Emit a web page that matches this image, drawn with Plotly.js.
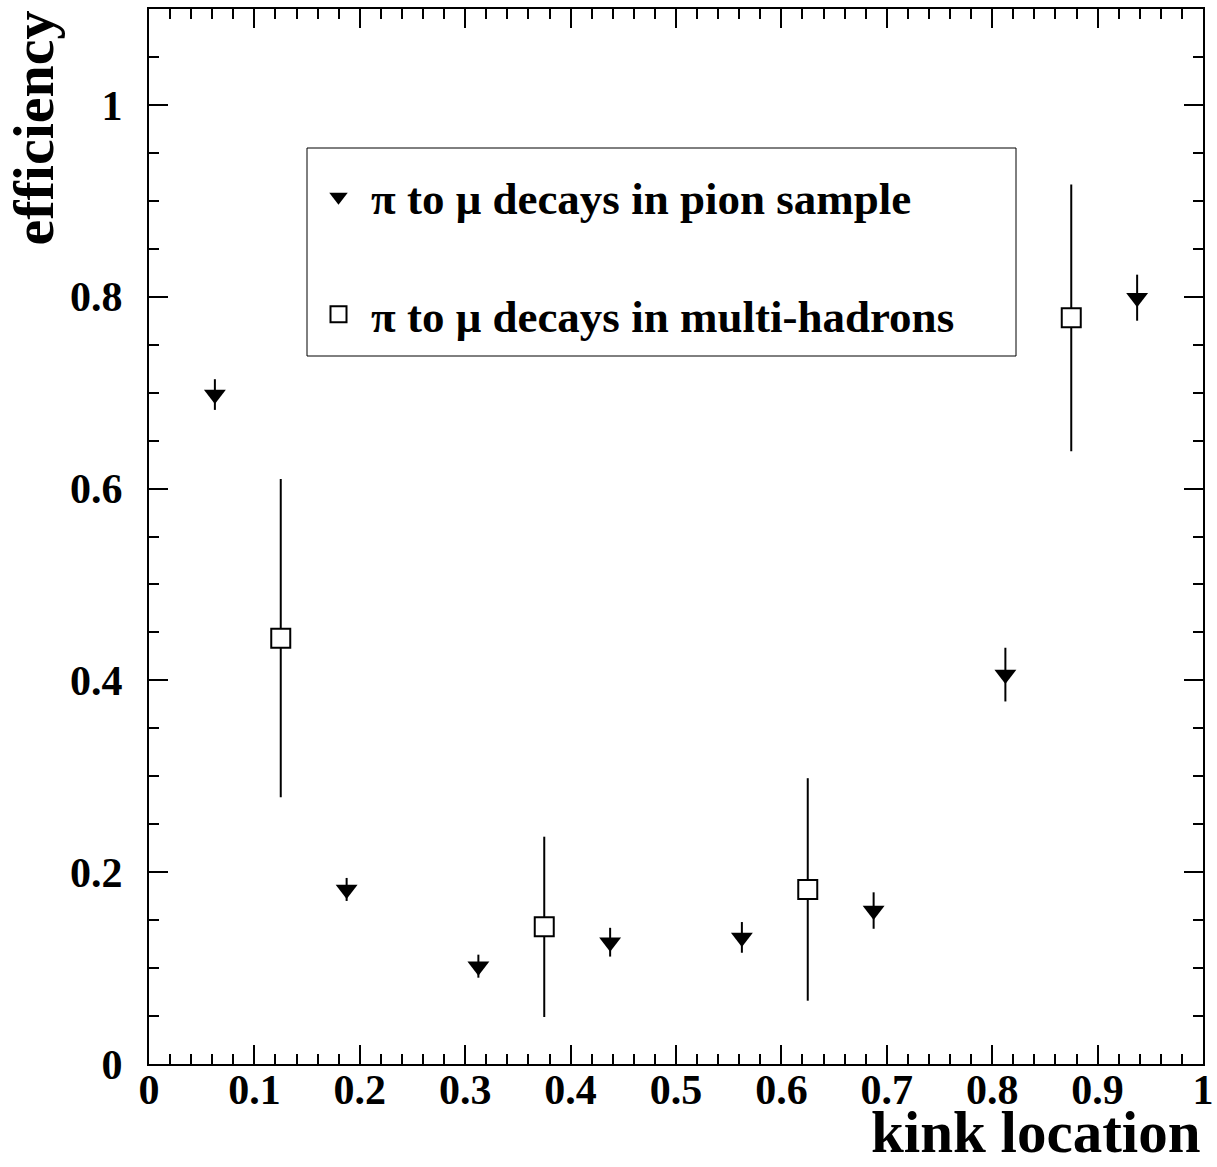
<!DOCTYPE html>
<html>
<head>
<meta charset="utf-8">
<script src="https://cdn.plot.ly/plotly-3.0.1.min.js"></script>
<style>html,body{margin:0;padding:0;background:#fff;}</style>
</head>
<body>
<div id="chart" style="width:1217px;height:1167px;"></div>
<script>
// Pion sample (filled downward triangles)
const pionX = [0.0625, 0.1875, 0.3125, 0.4375, 0.5625, 0.6875, 0.8125, 0.9375];
const pionY = [0.698, 0.182, 0.102, 0.127, 0.132, 0.160, 0.406, 0.799];
const pionErr = [0.016, 0.012, 0.012, 0.015, 0.016, 0.019, 0.028, 0.024];

// Multi-hadrons (open squares)
const multiX = [0.125, 0.375, 0.625, 0.875];
const multiY = [0.444, 0.143, 0.182, 0.778];
const multiErr = [0.166, 0.094, 0.116, 0.139];

const seriesNames = ["\u03c0 to \u03bc decays in pion sample", "\u03c0 to \u03bc decays in multi-hadrons"];

const FONT = "Liberation Serif, Times New Roman, serif";

const traces = [
  {
    x: pionX, y: pionY, type: "scatter", mode: "markers", name: seriesNames[0],
    legendgroup: "a",
    marker: {symbol: "triangle-down", size: 19, color: "#000"},
    error_y: {type: "data", array: pionErr, visible: true, color: "#000", thickness: 2, width: 0}
  },
  {
    x: multiX, y: multiY, type: "scatter", mode: "markers", name: seriesNames[1],
    legendgroup: "b",
    marker: {symbol: "square", size: 19, color: "#fff", line: {color: "#000", width: 2}},
    error_y: {type: "data", array: multiErr, visible: true, color: "#000", thickness: 2, width: 0}
  }
];

const axisCommon = {
  showline: true, linewidth: 2, linecolor: "#000", mirror: "allticks",
  ticks: "inside", ticklen: 19, tickwidth: 2, tickcolor: "#000",
  showgrid: false, zeroline: false,
  tickfont: {family: FONT, size: 42, color: "#000", weight: "bold"}
};

const layout = {
  width: 1217, height: 1167,
  margin: {l: 149, r: 14, t: 9, b: 103},
  paper_bgcolor: "#fff", plot_bgcolor: "#fff",
  showlegend: true,
  xaxis: Object.assign({}, axisCommon, {
    range: [0, 1], tick0: 0, dtick: 0.1, ticklabelstandoff: -12,
    minor: {dtick: 0.02, ticks: "inside", ticklen: 10, tickwidth: 2, tickcolor: "#000", showgrid: false}
  }),
  yaxis: Object.assign({}, axisCommon, {
    range: [0, 1.1], tick0: 0, dtick: 0.2, ticklabelstandoff: 16,
    minor: {dtick: 0.05, ticks: "inside", ticklen: 10, tickwidth: 2, tickcolor: "#000", showgrid: false}
  }),
  legend: {
    x: (306 - 149) / 1054, y: 0.856, xanchor: "left", yanchor: "top",
    bgcolor: "rgba(0,0,0,0)", borderwidth: 0,
    font: {family: FONT, size: 45, color: "#000", weight: "bold"},
    traceorder: "grouped", tracegroupgap: 56, itemwidth: 55
  },
  shapes: [
    {type: "rect", xref: "paper", yref: "paper",
     x0: (307 - 149) / 1054, x1: (1016 - 149) / 1054,
     y0: (1064 - 356) / 1055, y1: (1064 - 148) / 1055,
     line: {color: "#000", width: 1}, fillcolor: "rgba(0,0,0,0)"}
  ],
  annotations: [
    {text: "kink location", xref: "paper", yref: "paper", x: 1, y: 0,
     xanchor: "right", yanchor: "top", xshift: 0, yshift: -33, showarrow: false,
     font: {family: FONT, size: 59, color: "#000", weight: "bold"}},
    {text: "efficiency", xref: "paper", yref: "paper", x: 0, y: 1,
     xanchor: "center", yanchor: "top", xshift: -116, yshift: 0, textangle: -90, showarrow: false,
     font: {family: FONT, size: 58, color: "#000", weight: "bold"}}
  ]
};

Plotly.newPlot("chart", traces, layout, {displayModeBar: false, staticPlot: true});
</script>
</body>
</html>
